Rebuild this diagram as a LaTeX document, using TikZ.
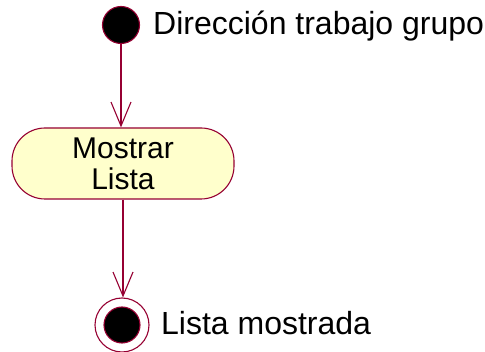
\documentclass[tikz,border=0pt]{standalone}
\usepackage{fontspec}
\setmainfont{Liberation Sans}
\usetikzlibrary{arrows.meta,positioning}
\definecolor{umlborde}{RGB}{150,0,50}
\definecolor{umlrelleno}{RGB}{255,255,204}

\begin{document}
\begin{tikzpicture}[x=1pt,y=-1pt,
    flecha/.style={-{Straight Barb[length=24pt,width=20pt]}, umlborde, line width=1.1pt},
    actividad/.style={draw=umlborde, fill=umlrelleno, line width=1.1pt, rounded corners=33pt,
        minimum width=222pt, minimum height=71pt, align=center, inner sep=0pt,
        font=\fontsize{30}{31}\selectfont},
    etiqueta/.style={anchor=base west, inner sep=0pt, font=\fontsize{32}{28}\selectfont}]
    \useasboundingbox (0, 0) rectangle (485, 352);

    % Initial state
    \node[circle, fill=black, draw=umlborde, line width=1.1pt, minimum size=37pt, inner sep=0pt] (inicio) at (121, 25) {};
    \node[etiqueta] (textoinicio) at (153, 35) {Dirección trabajo grupo};

    % Activity
    \node[actividad] (mostrar) at (123, 163.5) {Mostrar\\Lista};

    % Final state
    \node[circle, fill=white, draw=umlborde, line width=1.1pt, minimum size=54pt, inner sep=0pt] (fin) at (122, 325) {};
    \node[circle, fill=black, draw=umlborde, line width=1.1pt, minimum size=36pt, inner sep=0pt] (finint) at (fin) {};
    \node[etiqueta] (textofin) at (161, 335) {Lista mostrada};

    % Transitions
    \draw[flecha] (inicio) -- (inicio |- mostrar.north);
    \draw[flecha] (mostrar.south) -- (mostrar.south |- fin.north);
\end{tikzpicture}
\end{document}
